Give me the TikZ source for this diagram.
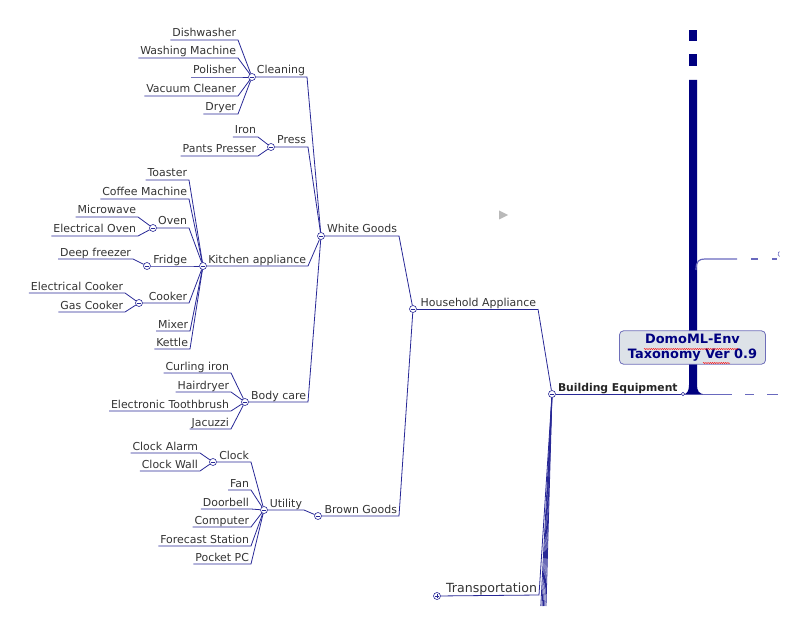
\documentclass[tikz,border=0pt]{standalone}
\usepackage{fontspec}
\setmainfont{DejaVu Sans}
\usetikzlibrary{decorations.pathmorphing}
\definecolor{linkblue}{RGB}{40,40,150}
\definecolor{barnavy}{RGB}{0,0,128}
\definecolor{branchblue}{RGB}{105,105,190}
\definecolor{labelgray}{RGB}{51,51,51}
\definecolor{titlefill}{RGB}{221,226,232}
\definecolor{titleline}{RGB}{110,110,185}
\tikzset{
  con/.style={draw=linkblue, line width=0.8pt},
  lbl/.style={anchor=south east, inner xsep=2pt, inner ysep=0pt, outer sep=0pt,
    text depth=3pt, text=labelgray, font=\fontsize{10.95}{12}\selectfont},
  tog/.style={circle, draw=linkblue, fill=white, line width=0.6pt, minimum size=7pt, inner sep=0pt,
    path picture={\draw[linkblue, line width=0.6pt]
      ([xshift=-1.6pt]path picture bounding box.center) -- ([xshift=1.6pt]path picture bounding box.center);}},
  togplus/.style={tog, path picture={\draw[linkblue, line width=0.6pt]
      ([xshift=-1.6pt]path picture bounding box.center) -- ([xshift=1.6pt]path picture bounding box.center)
      ([yshift=-1.6pt]path picture bounding box.center) -- ([yshift=1.6pt]path picture bounding box.center);}},
  squiggle/.style={red, line width=0.4pt, decorate, decoration={snake, amplitude=0.6pt, segment length=2.2pt}}
}
\begin{document}
\begin{tikzpicture}[x=1pt, y=-1pt]
  \useasboundingbox (0,0) rectangle (797,620);

  \node[tog] (clC) at (252,77) {};
  \node[lbl] (dish) at (238,40) {Dishwasher};
  \node[lbl] (wash) at (238,58) {Washing Machine};
  \node[lbl] (poli) at (238,77) {Polisher};
  \node[lbl] (vacu) at (238,96) {Vacuum Cleaner};
  \node[lbl] (drye) at (238,114) {Dryer};
  \node[lbl] (clean) at (307,77) {Cleaning};

  \node[tog] (prC) at (271,147) {};
  \node[lbl] (iron) at (258,137) {Iron};
  \node[lbl] (pant) at (258,156) {Pants Presser};
  \node[lbl] (press) at (308,147) {Press};

  \node[tog] (kaC) at (203,266) {};
  \node[lbl] (toas) at (189,180) {Toaster};
  \node[lbl] (coff) at (189,199) {Coffee Machine};
  \node[tog] (ovC) at (153,228) {};
  \node[lbl] (micr) at (138,217) {Microwave};
  \node[lbl] (eovn) at (138,236) {Electrical Oven};
  \node[lbl] (oven) at (189,228) {Oven};
  \node[tog] (frC) at (147,266) {};
  \node[lbl] (deep) at (133,259) {Deep freezer};
  \node[lbl] (frid) at (189,266) {Fridge};
  \node[tog] (coC) at (139,303) {};
  \node[lbl] (ecoo) at (125,293) {Electrical Cooker};
  \node[lbl] (gasc) at (125,312) {Gas Cooker};
  \node[lbl] (cook) at (189,303) {Cooker};
  \node[lbl] (mixr) at (190,331) {Mixer};
  \node[lbl] (kett) at (190,349) {Kettle};
  \node[lbl] (kitch) at (308,266) {Kitchen appliance};

  \node[tog] (bcC) at (245,402) {};
  \node[lbl] (curl) at (231,373) {Curling iron};
  \node[lbl] (hair) at (231,392) {Hairdryer};
  \node[lbl] (tbru) at (231,411) {Electronic Toothbrush};
  \node[lbl] (jacu) at (231,429) {Jacuzzi};
  \node[lbl] (body) at (308,402) {Body care};

  \node[tog] (wgC) at (321,236) {};
  \node[lbl] (white) at (399,236) {White Goods};

  \node[tog] (ckC) at (213,462) {};
  \node[lbl] (calm) at (200,453) {Clock Alarm};
  \node[lbl] (cwal) at (200,471) {Clock Wall};
  \node[lbl] (clock) at (251,462) {Clock};
  \node[tog] (utC) at (264,510) {};
  \node[lbl] (fan) at (251,490) {Fan};
  \node[lbl] (door) at (251,509) {Doorbell};
  \node[lbl] (comp) at (251,527) {Computer};
  \node[lbl] (fore) at (251,546) {Forecast Station};
  \node[lbl] (pock) at (251,564) {Pocket PC};
  \node[lbl] (util) at (304,510) {Utility};
  \node[tog] (bgC) at (318,516) {};
  \node[lbl] (brown) at (399,516) {Brown Goods};

  \node[tog] (haC) at (413,309) {};
  \node[lbl] (house) at (538,309) {Household Appliance};

  \node[togplus] (trC) at (437,596) {};
  \node[lbl, font=\fontsize{12.6}{14}\selectfont] (trans) at (539,595) {Transportation};

  \draw[con] (dish.south west) -- (dish.south east) -- (clC);
  \draw[con] (wash.south west) -- (wash.south east) -- (clC);
  \draw[con] (poli.south west) -- (poli.south east) -- (clC);
  \draw[con] (vacu.south west) -- (vacu.south east) -- (clC);
  \draw[con] (drye.south west) -- (drye.south east) -- (clC);
  \draw[con] (clC) -- (clean.south east) -- (wgC);

  \draw[con] (iron.south west) -- (iron.south east) -- (prC);
  \draw[con] (pant.south west) -- (pant.south east) -- (prC);
  \draw[con] (prC) -- (press.south east) -- (wgC);

  \draw[con] (micr.south west) -- (micr.south east) -- (ovC);
  \draw[con] (eovn.south west) -- (eovn.south east) -- (ovC);
  \draw[con] (deep.south west) -- (deep.south east) -- (frC);
  \draw[con] (ecoo.south west) -- (ecoo.south east) -- (coC);
  \draw[con] (gasc.south west) -- (gasc.south east) -- (coC);
  \draw[con] (toas.south west) -- (toas.south east) -- (kaC);
  \draw[con] (coff.south west) -- (coff.south east) -- (kaC);
  \draw[con] (ovC) -- (oven.south east) -- (kaC);
  \draw[con] (frC) -- (frid.south east) -- (kaC);
  \draw[con] (coC) -- (cook.south east) -- (kaC);
  \draw[con] (mixr.south west) -- (mixr.south east) -- (kaC);
  \draw[con] (kett.south west) -- (kett.south east) -- (kaC);
  \draw[con] (kaC) -- (kitch.south east) -- (wgC);

  \draw[con] (curl.south west) -- (curl.south east) -- (bcC);
  \draw[con] (hair.south west) -- (hair.south east) -- (bcC);
  \draw[con] (tbru.south west) -- (tbru.south east) -- (bcC);
  \draw[con] (jacu.south west) -- (jacu.south east) -- (bcC);
  \draw[con] (bcC) -- (body.south east) -- (wgC);

  \draw[con] (calm.south west) -- (calm.south east) -- (ckC);
  \draw[con] (cwal.south west) -- (cwal.south east) -- (ckC);
  \draw[con] (ckC) -- (clock.south east) -- (utC);
  \draw[con] (fan.south west) -- (fan.south east) -- (utC);
  \draw[con] (door.south west) -- (door.south east) -- (utC);
  \draw[con] (comp.south west) -- (comp.south east) -- (utC);
  \draw[con] (fore.south west) -- (fore.south east) -- (utC);
  \draw[con] (pock.south west) -- (pock.south east) -- (utC);
  \draw[con] (utC) -- (util.south east) -- (bgC);

  \draw[con] (wgC) -- (white.south east) -- (haC);
  \draw[con] (bgC) -- (brown.south east) -- (haC);

  \fill[barnavy] (689,30) rectangle (697,41);
  \fill[barnavy] (689,54) rectangle (697,66);
  \fill[barnavy] (689,80) -- (689,385) .. controls (689,391) and (687,394) .. (683,394.5)
    -- (705,394.5) .. controls (699,394) and (697,391) .. (697,385) -- (697,80) -- cycle;
  \draw[branchblue, line width=1.2pt] (696,270) .. controls (696,261) and (699,259) .. (705,259) -- (737,259);
  \draw[branchblue, line width=1.2pt] (751,259) -- (758,259) (772,259) -- (777,259);
  \draw[branchblue, line width=0.6pt] (779.5,256.5) arc[start angle=120, end angle=240, radius=2.8];
  \draw[branchblue, line width=1.2pt] (703,394.5) -- (732,394.5) (745,394.5) -- (754,394.5) (767,394.5) -- (778,394.5);

  \node[tog] (beC) at (552,394) {};
  \node[circle, draw=linkblue, fill=white, line width=0.6pt, inner sep=0pt, minimum size=3.6pt] (beEnd) at (683,394) {};
  \node[anchor=south west, inner xsep=2pt, inner ysep=0pt, outer sep=0pt, text depth=3pt,
    text=black!85, font=\fontsize{10.8}{12}\selectfont\bfseries] (build) at (556,394) {Building Equipment};
  \draw[con] (beC) -- (beEnd);
  \draw[con] (house.south east) -- (beC);
  \draw[con] (haC) -- (house.south east);
  \draw[con] (trC) -- (trans.south east) -- (beC);
  \foreach \i in {1,...,5} {
    \coordinate (off\i) at ({539.5+1.3*\i},606);
    \draw[con] (beC) -- (off\i);
  }

  \fill[gray!55] (499,210.5) -- (508,215) -- (499,219.5) -- cycle;

  \node[draw=titleline, fill=titlefill, line width=0.8pt, rounded corners=4pt,
    minimum width=146pt, minimum height=32pt, align=center, text=barnavy,
    font=\fontsize{12.9}{14.5}\selectfont\bfseries] (title) at (692.5,347.5) {DomoML-Env\\Taxonomy Ver 0.9};
  \draw[squiggle] (644,349) -- (738,349);
  \draw[squiggle] (703,363) -- (730,363);
\end{tikzpicture}
\end{document}
